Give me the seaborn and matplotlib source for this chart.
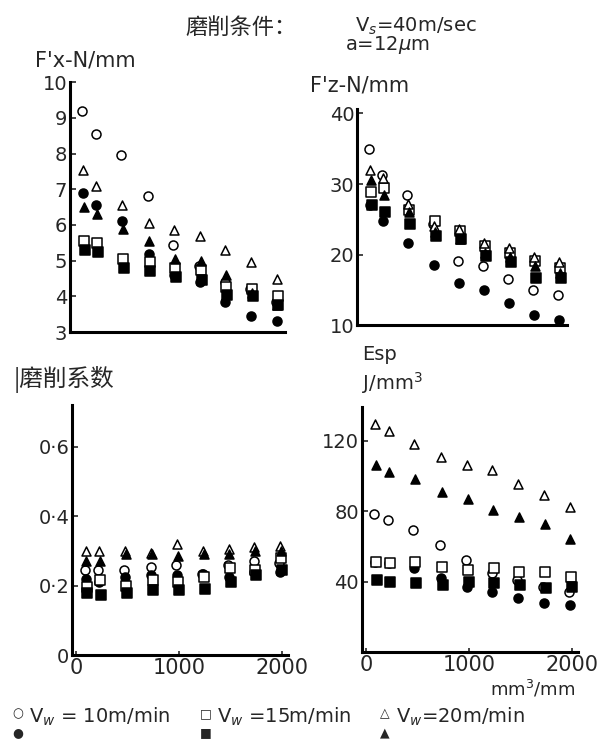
import numpy as np
import pandas as pd
import seaborn as sns
import matplotlib.pyplot as plt

sns.set_theme(style="ticks")
plt.rcParams["font.family"] = ["DejaVu Sans", "Noto Sans CJK SC"]

# removal volume, mm^3/mm
x_vals = [90, 220, 470, 730, 980, 1230, 1480, 1730, 1980]

# F'x - N/mm
fx_open_circle = [9.2, 8.55, 7.95, 6.8, 5.45, 4.85, 4.4, 4.2, 3.85]
fx_fill_circle = [6.9, 6.55, 6.1, 5.2, 4.6, 4.4, 3.85, 3.45, 3.3]
fx_open_square = [5.55, 5.5, 5.05, 4.95, 4.8, 4.75, 4.25, 4.2, 4.0]
fx_fill_square = [5.3, 5.25, 4.8, 4.7, 4.55, 4.45, 4.05, 4.0, 3.75]
fx_open_tri = [7.55, 7.1, 6.55, 6.05, 5.85, 5.7, 5.3, 4.95, 4.5]
fx_fill_tri = [6.5, 6.3, 5.9, 5.55, 5.05, 5.0, 4.6, 4.1, 3.75]

# F'z - N/mm
fz_open_circle = [34.9, 31.3, 28.4, 24.4, 19.1, 18.4, 16.5, 15.0, 14.3]
fz_fill_circle = [27.0, 24.8, 21.7, 18.6, 16.0, 15.0, 13.1, 11.4, 10.7]
fz_open_square = [28.9, 29.4, 26.3, 24.8, 23.4, 21.2, 20.3, 19.1, 18.1]
fz_fill_square = [27.0, 26.0, 24.4, 22.7, 22.2, 19.8, 18.9, 16.7, 16.7]
fz_open_tri = [32.0, 30.8, 27.2, 24.1, 23.6, 21.7, 21.0, 19.6, 18.9]
fz_fill_tri = [30.6, 28.4, 26.0, 23.2, 22.2, 20.3, 19.6, 18.4, 17.4]

# grinding coefficient
mu_open_circle = [0.245, 0.245, 0.245, 0.255, 0.26, 0.235, 0.26, 0.27, 0.265]
mu_fill_circle = [0.22, 0.21, 0.225, 0.23, 0.23, 0.235, 0.225, 0.24, 0.24]
mu_open_square = [0.197, 0.215, 0.2, 0.215, 0.21, 0.225, 0.25, 0.245, 0.28]
mu_fill_square = [0.178, 0.173, 0.178, 0.187, 0.187, 0.19, 0.21, 0.23, 0.245]
mu_open_tri = [0.30, 0.30, 0.30, 0.295, 0.32, 0.30, 0.305, 0.31, 0.315]
mu_fill_tri = [0.27, 0.27, 0.29, 0.29, 0.285, 0.29, 0.29, 0.30, 0.30]

# Esp - J/mm^3
esp_open_circle = [78.7, 75.0, 69.2, 60.8, 52.3, 44.7, 41.0, 37.2, 34.3]
esp_fill_circle = [51.3, 50.4, 47.5, 41.9, 37.2, 34.3, 30.6, 27.7, 26.8]
esp_open_square = [51.3, 50.4, 51.3, 48.5, 46.6, 47.5, 45.7, 45.7, 42.8]
esp_fill_square = [41.0, 40.0, 39.0, 38.1, 40.0, 39.0, 38.1, 36.2, 37.2]
esp_open_tri = [129.6, 125.8, 118.3, 110.8, 106.0, 103.2, 95.7, 89.0, 82.5]
esp_fill_tri = [106.0, 102.3, 98.5, 91.0, 87.2, 80.6, 76.8, 73.0, 64.5]

series_names = ["oc", "fc", "os", "fs", "ot", "ft"]
markers = {"oc": "o", "fc": "o", "os": "s", "fs": "s", "ot": "^", "ft": "^"}
faces = {"oc": "white", "fc": "black", "os": "white", "fs": "black", "ot": "white", "ft": "black"}
dodge = {"oc": -8, "fc": 0, "os": 10, "fs": 18, "ot": 0, "ft": 8}

panels = [
    ([fx_open_circle, fx_fill_circle, fx_open_square, fx_fill_square, fx_open_tri, fx_fill_tri],
     [0.117, 0.559, 0.360, 0.332], (3, 10), [3, 4, 5, 6, 7, 8, 9, 10],
     ["3", "4", "5", "6", "7", "8", "9", "10"], False),
    ([fz_open_circle, fz_fill_circle, fz_open_square, fz_fill_square, fz_open_tri, fz_fill_tri],
     [0.598, 0.568, 0.352, 0.287], (10, 40.6), [10, 20, 30, 40],
     ["10", "20", "30", "40"], False),
    ([mu_open_circle, mu_fill_circle, mu_open_square, mu_fill_square, mu_open_tri, mu_fill_tri],
     [0.121, 0.130, 0.362, 0.332], (0, 0.72), [0, 0.2, 0.4, 0.6],
     ["0", "0·2", "0·4", "0·6"], True),
    ([esp_open_circle, esp_fill_circle, esp_open_square, esp_fill_square, esp_open_tri, esp_fill_tri],
     [0.606, 0.134, 0.362, 0.325], (0, 139), [40, 80, 120],
     ["40", "80", "120"], True),
]

fig = plt.figure(figsize=(5.97, 7.53), dpi=100)

for data, rect, ylim, yt, ytl, show_x in panels:
    ax = fig.add_axes(rect)
    rows = []
    for name, vals in zip(series_names, data):
        for xv, yv in zip(x_vals, vals):
            rows.append({"x": xv + dodge[name], "y": yv, "s": name})
    df = pd.DataFrame(rows)
    for name in series_names:
        sub = df[df["s"] == name]
        sns.scatterplot(data=sub, x="x", y="y", ax=ax, marker=markers[name],
                        color=faces[name], edgecolor="black", linewidth=1.1,
                        s=42, legend=False, zorder=3)
    ax.set_xlim(-40, 2060)
    ax.set_ylim(*ylim)
    ax.set_yticks(yt)
    ax.set_yticklabels(ytl, fontsize=14)
    ax.set_xlabel(None)
    ax.set_ylabel(None)
    sns.despine(ax=ax)
    for sp in ["left", "bottom"]:
        ax.spines[sp].set_linewidth(2.2)
        ax.spines[sp].set_color("black")
    ax.tick_params(axis="y", direction="in", length=4, width=1.2, pad=2)
    if show_x:
        ax.set_xticks([0, 1000, 2000])
        ax.set_xticklabels(["0", "1000", "2000"], fontsize=15)
        ax.tick_params(axis="x", direction="in", length=3, width=1.2, pad=2)
    else:
        ax.set_xticks([])

# headings
fig.text(0.31, 0.955, "磨削条件：", fontsize=16, family=["Noto Sans CJK SC", "DejaVu Sans"])
fig.text(0.595, 0.958, r"V$_s$=40m/sec", fontsize=14)
fig.text(0.578, 0.933, r"a=12$\mu$m", fontsize=14)
fig.text(0.058, 0.912, "F'x-N/mm", fontsize=15)
fig.text(0.52, 0.878, "F'z-N/mm", fontsize=15)
fig.text(0.022, 0.487, "|磨削系数", fontsize=17, family=["Noto Sans CJK SC", "DejaVu Sans"])
fig.text(0.607, 0.522, "Esp", fontsize=14)
fig.text(0.607, 0.482, r"J/mm$^3$", fontsize=14)
fig.text(0.82, 0.077, r"mm$^3$/mm", fontsize=13)

# legend
leg_items = [(0.03, "○", "●", r"V$_w$ = 10m/min"),
             (0.345, "□", "■", r"V$_w$ =15m/min"),
             (0.645, "△", "▲", r"V$_w$=20m/min")]
for lx, m_open, m_fill, lab in leg_items:
    fig.text(lx, 0.048, m_open, fontsize=9, ha="center")
    fig.text(lx, 0.022, m_fill, fontsize=9, ha="center")
    fig.text(lx + 0.018, 0.04, lab, fontsize=14)

fig.savefig("out.png", dpi=100)
